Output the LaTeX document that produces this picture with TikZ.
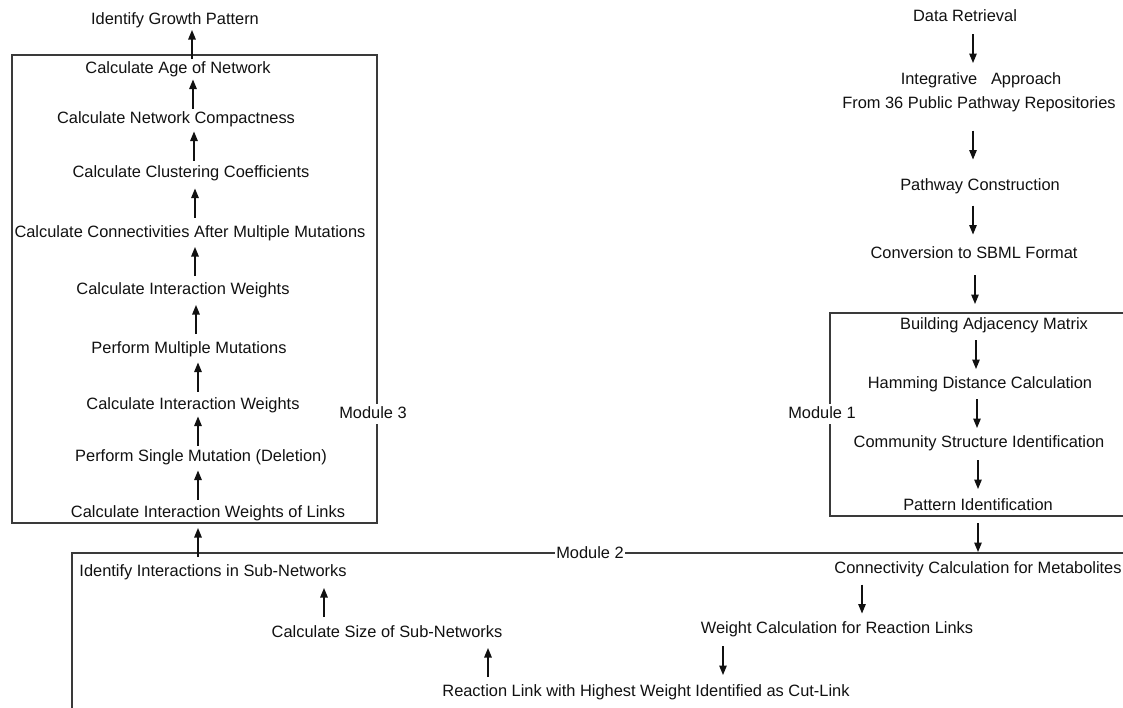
\documentclass[tikz,border=0pt]{standalone}
\usepackage{fontspec}
\setmainfont{Liberation Sans}
\usetikzlibrary{arrows.meta,calc,positioning}
\definecolor{frameGray}{HTML}{3A3A3A}
\definecolor{inkBlack}{HTML}{111111}
\tikzset{
  stage/.style={inner sep=1pt,text height=11.7pt,text depth=3.4pt,text=inkBlack,font=\fontsize{16.4}{19}\selectfont},
  flow/.style={-{Triangle[length=9.5pt,width=7.5pt]},line width=1.3pt,inkBlack},
  frame/.style={line width=1.4pt,frameGray},
  modlabel/.style={stage,fill=white,inner xsep=1.5pt,inner ysep=2pt}
}

\begin{document}
\begin{tikzpicture}[x=1pt,y=-1pt]
  \fill[white] (0,0) rectangle (1123,707);
  \useasboundingbox (0,0) rectangle (1123,707);

  % module frames
  \draw[frame] (12,55) rectangle (377,523);
  \draw[frame] (1130,313) -- (830,313) -- (830,516) -- (1130,516);
  \draw[frame] (72,712) -- (72,553) -- (1130,553);
  \node[modlabel] (mod3) at (373,414) {Module 3};
  \node[modlabel] (mod1) at (822,414) {Module 1};
  \node[modlabel] (mod2) at (590,554) {Module 2};

  % module 3 column (read bottom to top)
  \foreach \nm/\x/\y/\txt in {gp/175/20/Identify Growth Pattern,
      age/178/69/Calculate Age of Network,
      comp/176/119/Calculate Network Compactness,
      clus/191/173/Calculate Clustering Coefficients,
      conn/190/233/Calculate Connectivities After Multiple Mutations,
      iwb/183/290/Calculate Interaction Weights,
      mm/189/349/Perform Multiple Mutations,
      iwa/193/405/Calculate Interaction Weights,
      sm/201/457/Perform Single Mutation (Deletion),
      iwl/208/513/Calculate Interaction Weights of Links}
    \node[stage] (\nm) at (\x,\y) {\txt};

  % data column and module 1
  \foreach \nm/\x/\y/\txt in {dr/965/17/Data Retrieval,
      ia/981/80/Integrative\ \ \ Approach,
      fr/979/104/From 36 Public Pathway Repositories,
      pc/980/186/Pathway Construction,
      sb/974/254/Conversion to SBML Format,
      bam/994/325/Building Adjacency Matrix,
      hd/980/384/Hamming Distance Calculation,
      csi/979/443/Community Structure Identification,
      pid/978/506/Pattern Identification}
    \node[stage] (\nm) at (\x,\y) {\txt};

  % module 2
  \node[stage] (cm) at (978,569) {Connectivity Calculation for Metabolites};
  \node[stage] (wc) at (837,629) {Weight Calculation for Reaction Links};
  \node[stage] (rl) at (646,692) {Reaction Link with Highest Weight Identified as Cut-Link};
  \node[stage] (cs) at (387,633) {Calculate Size of Sub-Networks};
  \node[stage] (ii) at (213,572) {Identify Interactions in Sub-Networks};

  % downward arrows
  \foreach \a/\b/\x in {dr/ia/973, fr/pc/973, pc/sb/973, sb/bam/975,
      bam/hd/976, hd/csi/977, csi/pid/978, pid/cm/978, cm/wc/862, wc/rl/723}
    \draw[flow] ($(\a.south -| \x,0)!.5!(\b.north -| \x,0)+(0,-14.5)$) -- ++(0,29);

  % upward arrows
  \foreach \a/\b/\x in {rl/cs/488, cs/ii/324, ii/iwl/198, iwl/sm/198,
      sm/iwa/198, iwa/mm/198, mm/iwb/196, iwb/conn/195, conn/clus/195,
      clus/comp/194, comp/age/193, age/gp/192}
    \draw[flow] ($(\a.north -| \x,0)!.5!(\b.south -| \x,0)+(0,14.5)$) -- ++(0,-29);
\end{tikzpicture}
\end{document}
